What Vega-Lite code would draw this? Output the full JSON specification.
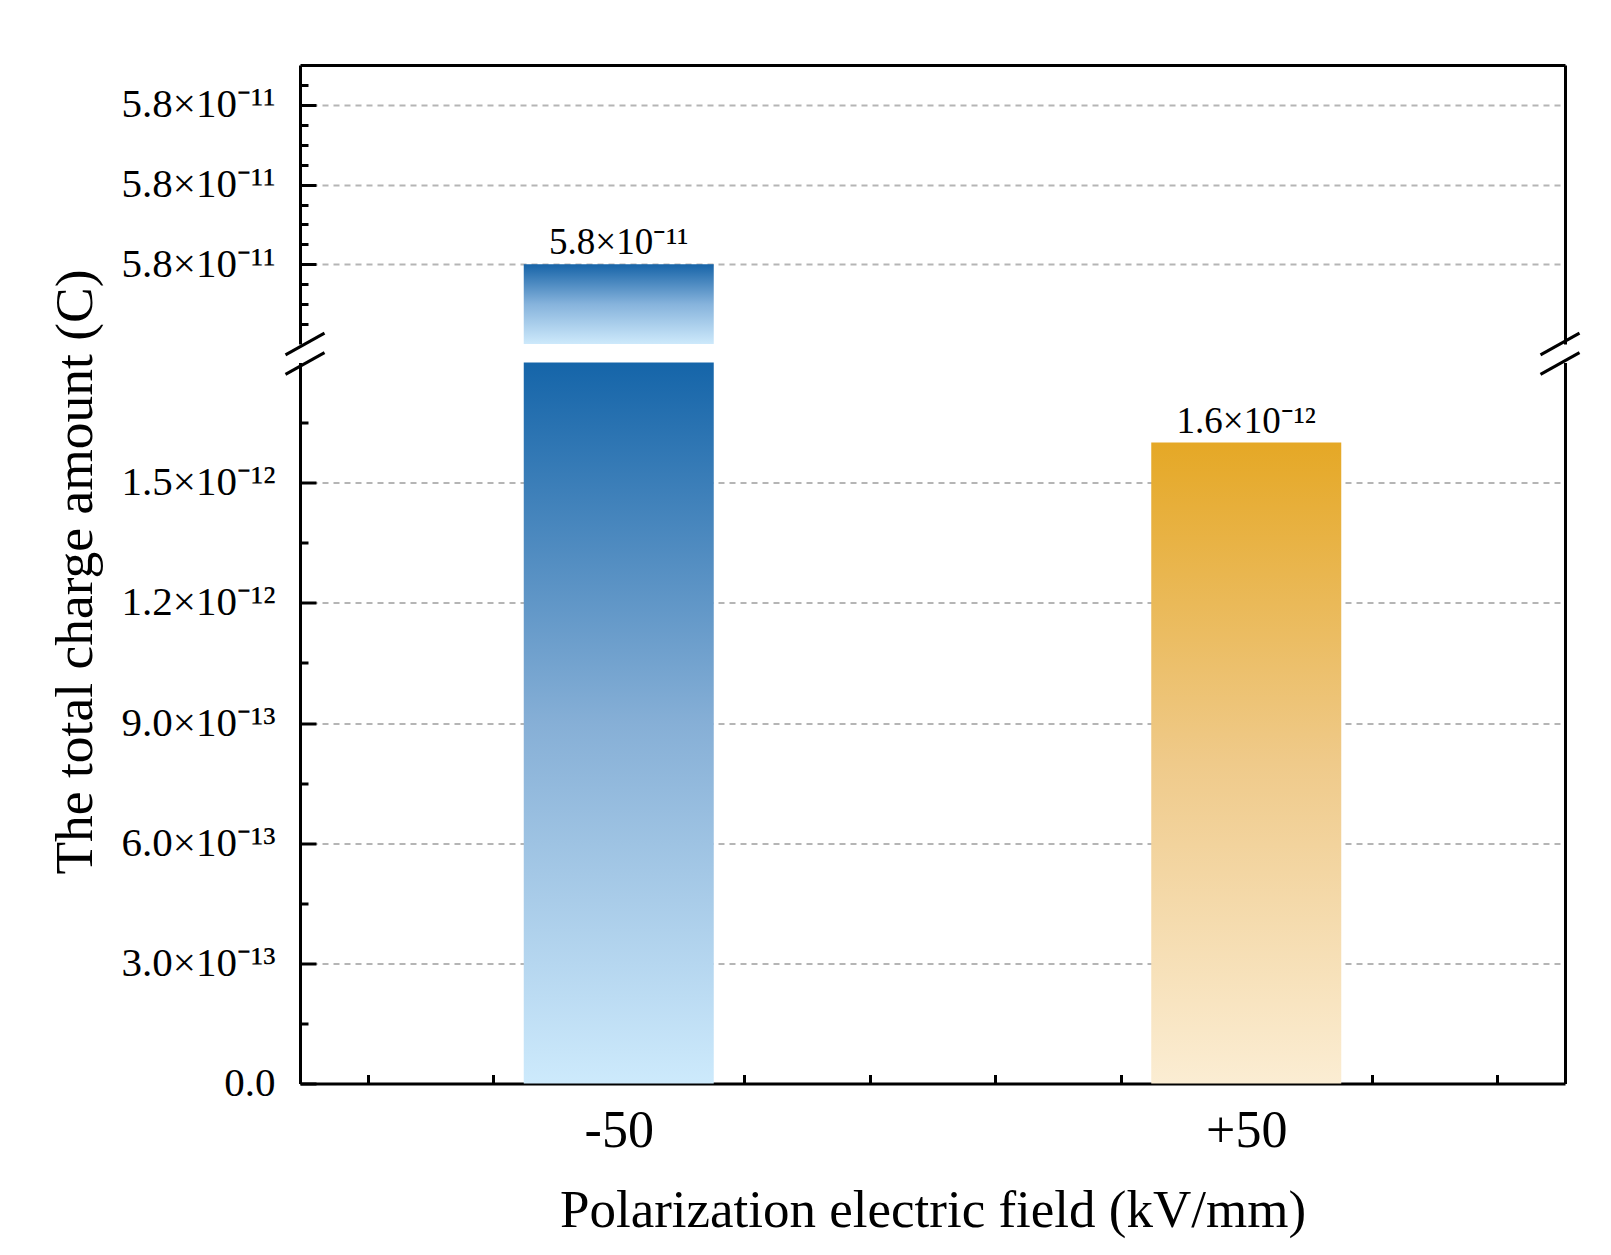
{
  "$schema": "https://vega.github.io/schema/vega-lite/v6.json",
  "background": "white",
  "padding": {"left": 47, "top": 65, "right": 10, "bottom": 10},
  "bounds": "flush",
  "spacing": 18.5,
  "config": {
    "font": "Liberation Serif",
    "view": {"stroke": null},
    "axis": {
      "labelFont": "Liberation Serif",
      "titleFont": "Liberation Serif",
      "labelColor": "black",
      "titleColor": "black",
      "titleFontWeight": "normal",
      "domainColor": "black",
      "tickColor": "black",
      "labelOverlap": false
    }
  },
  "datasets": {
    "charge": [
      {"field": -50, "charge": 5.8e-11, "label": "5.8×10⁻¹¹"},
      {"field": 50, "charge": 1.6e-12, "label": "1.6×10⁻¹²"}
    ]
  },
  "vconcat": [
    {
      "width": 1265,
      "height": 279,
      "data": {"name": "charge"},
      "resolve": {"axis": {"x": "independent", "y": "independent"}},
      "layer": [
        {
          "mark": {"type": "bar", "width": 190},
          "encoding": {
            "x": {
              "field": "field", "type": "quantitative",
              "scale": {"domain": [-100, 100], "nice": false, "zero": false},
              "axis": {"orient": "top", "ticks": false, "labels": false, "grid": false, "title": null, "domainWidth": 3}
            },
            "y": {
              "field": "charge", "type": "quantitative",
              "scale": {"domain": [5.79e-11, 5.825e-11], "nice": false, "zero": false, "clamp": true},
              "axis": {
                "orient": "left",
                "values": [5.80e-11, 5.81e-11, 5.82e-11],
                "labelExpr": "format(datum.value / 1e-11, '.1f') + '×10⁻¹¹'",
                "labelFontSize": 41,
                "labelPadding": 41,
                "tickSize": -16,
                "tickWidth": 3,
                "domainWidth": 3,
                "grid": true,
                "gridColor": "#b5b5b5",
                "gridDash": [6, 5],
                "gridWidth": 2,
                "title": null
              }
            },
            "color": {
              "condition": {
                "test": "datum.field < 0",
                "value": {"gradient": "linear", "x1": 0, "y1": 0, "x2": 0, "y2": 1,
                  "stops": [{"offset": 0, "color": "#1764a8"}, {"offset": 0.5, "color": "#86b3dc"}, {"offset": 1, "color": "#cde9fb"}]}
              },
              "value": {"gradient": "linear", "x1": 0, "y1": 0, "x2": 0, "y2": 1,
                "stops": [{"offset": 0, "color": "#e5a826"}, {"offset": 0.5, "color": "#efca8a"}, {"offset": 1, "color": "#fbedd3"}]}
            }
          }
        },
        {
          "transform": [{"filter": "datum.charge >= 5.79e-11 && datum.charge <= 5.825e-11"}],
          "mark": {"type": "text", "baseline": "alphabetic", "dy": -10, "fontSize": 37, "font": "Liberation Serif", "color": "black"},
          "encoding": {
            "x": {"field": "field", "type": "quantitative", "axis": null},
            "y": {
              "field": "charge", "type": "quantitative",
              "axis": {
                "orient": "left",
                "values": [5.7925e-11, 5.795e-11, 5.7975e-11, 5.8025e-11, 5.805e-11, 5.8075e-11, 5.8125e-11, 5.815e-11, 5.8175e-11, 5.8225e-11],
                "labels": false, "domain": false, "grid": false,
                "tickSize": -8, "tickWidth": 3, "title": null
              }
            },
            "text": {"field": "label"}
          }
        },
        {
          "data": {"values": [{}]},
          "mark": {"type": "point", "shape": "M -1 0.556 L 1 -0.556", "size": 1521, "filled": false, "stroke": "black", "strokeWidth": 3, "opacity": 1},
          "encoding": {
            "x": {"datum": -100, "type": "quantitative", "axis": null},
            "y": {
              "datum": 5.79e-11, "type": "quantitative",
              "axis": {"orient": "right", "ticks": false, "labels": false, "grid": false, "title": null, "domainWidth": 3}
            }
          }
        },
        {
          "data": {"values": [{}]},
          "mark": {"type": "point", "shape": "M -1 0.556 L 1 -0.556", "size": 1521, "filled": false, "stroke": "black", "strokeWidth": 3, "opacity": 1},
          "encoding": {
            "x": {"datum": 100, "type": "quantitative", "axis": null},
            "y": {"datum": 5.79e-11, "type": "quantitative", "axis": null}
          }
        }
      ]
    },
    {
      "width": 1265,
      "height": 721,
      "data": {"name": "charge"},
      "resolve": {"axis": {"x": "independent", "y": "independent"}},
      "layer": [
        {
          "mark": {"type": "bar", "width": 190},
          "encoding": {
            "x": {
              "field": "field", "type": "quantitative",
              "scale": {"domain": [-100, 100], "nice": false, "zero": false},
              "axis": {
                "orient": "bottom",
                "values": [-90, -70, -50, -30, -10, 10, 30, 50, 70, 90],
                "labelExpr": "datum.value == -50 ? '-50' : datum.value == 50 ? '+50' : ''",
                "labelFontSize": 52,
                "labelAngle": 0,
                "labelPadding": 31,
                "labelFlush": false,
                "tickSize": -9,
                "tickWidth": 3,
                "domainWidth": 3,
                "grid": false,
                "title": "Polarization electric field (kV/mm)",
                "titleFontSize": 53,
                "titlePadding": 28
              }
            },
            "y": {
              "field": "charge", "type": "quantitative",
              "scale": {"domain": [0, 1.8e-12], "nice": false, "clamp": true},
              "axis": {
                "orient": "left",
                "values": [0, 3e-13, 6e-13, 9e-13, 1.2e-12, 1.5e-12],
                "labelExpr": "datum.value == 0 ? '0.0' : datum.value < 1e-12 ? format(datum.value / 1e-13, '.1f') + '×10⁻¹³' : format(datum.value / 1e-12, '.1f') + '×10⁻¹²'",
                "labelFontSize": 41,
                "labelPadding": 41,
                "tickSize": -16,
                "tickWidth": 3,
                "domainWidth": 3,
                "grid": true,
                "gridColor": "#b5b5b5",
                "gridDash": [6, 5],
                "gridWidth": 2,
                "title": "The total charge amount (C)",
                "titleFontSize": 53.5,
                "titleAngle": 270,
                "titleAlign": "center",
                "titleBaseline": "alphabetic",
                "titleX": -209,
                "titleY": 209
              }
            },
            "color": {
              "condition": {
                "test": "datum.field < 0",
                "value": {"gradient": "linear", "x1": 0, "y1": 0, "x2": 0, "y2": 1,
                  "stops": [{"offset": 0, "color": "#1565a9"}, {"offset": 0.5, "color": "#86afd6"}, {"offset": 1, "color": "#cdeafc"}]}
              },
              "value": {"gradient": "linear", "x1": 0, "y1": 0, "x2": 0, "y2": 1,
                "stops": [{"offset": 0, "color": "#e5a826"}, {"offset": 0.5, "color": "#efca8a"}, {"offset": 1, "color": "#fbedd3"}]}
            }
          }
        },
        {
          "transform": [{"filter": "datum.charge <= 1.8e-12"}],
          "mark": {"type": "text", "baseline": "alphabetic", "dy": -10, "fontSize": 37, "font": "Liberation Serif", "color": "black"},
          "encoding": {
            "x": {"field": "field", "type": "quantitative", "axis": null},
            "y": {
              "field": "charge", "type": "quantitative",
              "axis": {
                "orient": "left",
                "values": [1.5e-13, 4.5e-13, 7.5e-13, 1.05e-12, 1.35e-12, 1.65e-12],
                "labels": false, "domain": false, "grid": false,
                "tickSize": -8, "tickWidth": 3, "title": null
              }
            },
            "text": {"field": "label"}
          }
        },
        {
          "data": {"values": [{}]},
          "mark": {"type": "point", "shape": "M -1 0.556 L 1 -0.556", "size": 1521, "filled": false, "stroke": "black", "strokeWidth": 3, "opacity": 1, "yOffset": 1},
          "encoding": {
            "x": {"datum": -100, "type": "quantitative", "axis": null},
            "y": {
              "datum": 1.8e-12, "type": "quantitative",
              "axis": {"orient": "right", "ticks": false, "labels": false, "grid": false, "title": null, "domainWidth": 3}
            }
          }
        },
        {
          "data": {"values": [{}]},
          "mark": {"type": "point", "shape": "M -1 0.556 L 1 -0.556", "size": 1521, "filled": false, "stroke": "black", "strokeWidth": 3, "opacity": 1, "yOffset": 1},
          "encoding": {
            "x": {"datum": 100, "type": "quantitative", "axis": null},
            "y": {"datum": 1.8e-12, "type": "quantitative", "axis": null}
          }
        }
      ]
    }
  ]
}
